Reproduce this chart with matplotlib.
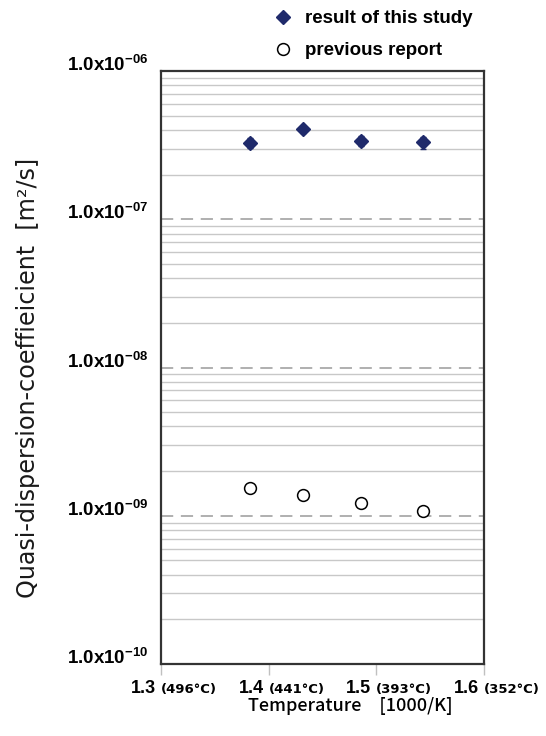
import numpy as np
import matplotlib
matplotlib.use('Agg')
import matplotlib.pyplot as plt
from matplotlib.ticker import LogLocator, NullFormatter

plt.rcParams['mathtext.fontset'] = 'custom'
plt.rcParams['mathtext.rm'] = 'Liberation Sans:bold'
plt.rcParams['mathtext.default'] = 'rm'

# data
x_study = [1.383, 1.432, 1.486, 1.543]
y_study = [3.28e-7, 4.04e-7, 3.38e-7, 3.30e-7]
err_study = [0.25e-7, 0.2e-7, 0.25e-7, 0.3e-7]
x_prev = [1.383, 1.432, 1.486, 1.543]
y_prev = [1.54e-9, 1.39e-9, 1.22e-9, 1.07e-9]

xticks = [1.3, 1.4, 1.5, 1.6]
celsius = ['(496°C)', '(441°C)', '(393°C)', '(352°C)']
yticks = [1e-10, 1e-9, 1e-8, 1e-7, 1e-6]
ytick_labels = [r'$1.0x10^{-10}$', r'$1.0x10^{-09}$', r'$1.0x10^{-08}$',
                r'$1.0x10^{-07}$', r'$1.0x10^{-06}$']

navy = '#1f2a6b'

fig = plt.figure(figsize=(5.46, 7.36), dpi=100)
ax = fig.add_axes([161 / 546, 72 / 736, 323 / 546, 593 / 736])

ax.errorbar(x_study, y_study, yerr=err_study, fmt='none', ecolor=navy,
            elinewidth=1.2, capsize=2)
ax.plot(x_study, y_study, 'D', color=navy, ms=6.8, label='result of this study')
ax.plot(x_prev, y_prev, 'o', mfc='white', mec='black', ms=8.5, mew=1.1,
        label='previous report')

ax.set_yscale('log')
ax.set_xlim(1.3, 1.6)
ax.set_ylim(1e-10, 1e-6)
ax.set_xticks(xticks)
ax.set_yticks(yticks)
ax.yaxis.set_minor_locator(LogLocator(base=10, subs=np.arange(2, 10)))
ax.yaxis.set_minor_formatter(NullFormatter())
ax.grid(which='minor', axis='y', color='#c8c8c8', lw=1, ls='-')
ax.grid(which='major', axis='y', color='#9a9a9a', lw=1.1, ls=(0, (8, 5)))
ax.set_axisbelow(True)
ax.tick_params(axis='y', which='both', length=0, labelleft=False)
ax.tick_params(axis='x', length=8, color='#c0c0c0', width=1, labelbottom=False)
for s in ax.spines.values():
    s.set_color('#333333')
    s.set_linewidth(1.6)

for v, lab in zip(yticks, ytick_labels):
    ax.annotate(lab, xy=(0, v), xycoords=('axes fraction', 'data'),
                xytext=(-13, 0), textcoords='offset pixels',
                ha='right', va='baseline', fontsize=13.5)

for t, c in zip(xticks, celsius):
    ax.annotate(f'{t:.1f}', xy=(t, 0), xycoords=('data', 'axes fraction'),
                xytext=(-5, -29), textcoords='offset pixels',
                ha='right', va='baseline', fontsize=13, fontweight='bold',
                family='Liberation Sans')
    ax.annotate(c, xy=(t, 0), xycoords=('data', 'axes fraction'),
                xytext=(0, -29), textcoords='offset pixels',
                ha='left', va='baseline', fontsize=9.5, fontweight='bold',
                family='DejaVu Sans')

fig.text(350 / 546, 1 - 706 / 736, 'Temperature\u3000[1000/K]', ha='center',
         va='center', fontsize=13, fontweight='medium',
         family=['Noto Sans CJK JP', 'DejaVu Sans'])
fig.text(28 / 546, 1 - 378 / 736, 'Quasi-dispersion-coeffieicient  [m²/s]',
         rotation=90, ha='center', va='center', fontsize=17.2,
         family='DejaVu Sans', color='#1a1a1a')

ax.legend(loc='upper left', bbox_to_anchor=(274 / 546, 1 - 10 / 736),
          bbox_transform=fig.transFigure, frameon=False, borderpad=0,
          borderaxespad=0, handlelength=1.0, handletextpad=0.65,
          labelspacing=0.8, numpoints=1,
          prop={'family': 'Liberation Sans', 'weight': 'bold', 'size': 13.5})

fig.savefig('out.png', dpi=100)
